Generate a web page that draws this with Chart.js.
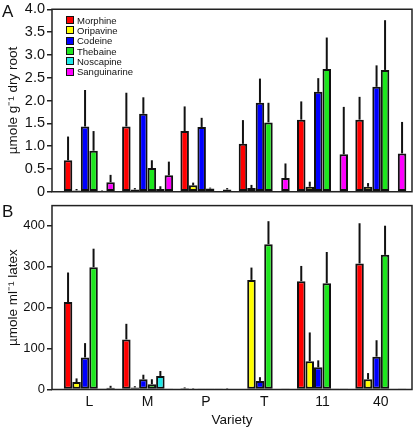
<!DOCTYPE html>
<html>
<head>
<meta charset="utf-8">
<script src="https://cdn.jsdelivr.net/npm/chart.js@4.4.1/dist/chart.umd.min.js"></script>
<style>
    body { margin: 0; background: #fff; font-family: Arial, "Liberation Sans", sans-serif; }
    #wrap { position: relative; width: 415px; height: 428px; }
    #wrap canvas { position: absolute; left: 0; }
    #rootChart { top: 0; }
    #latexChart { top: 201px; }
    .panel-tag { position: absolute; left: 2px; font-size: 17px; line-height: 17px; color: #111; }
    #legend { position: absolute; left: 66px; top: 15px; font-size: 9.5px; color: #111; }
    #legend .row { display: flex; align-items: center; height: 10.3px; }
    #legend .sw { width: 6px; height: 6px; border: 1px solid #111; margin-right: 3px; }
</style>
</head>
<body>
<div id="wrap">
    <canvas id="rootChart" width="415" height="201"></canvas>
    <canvas id="latexChart" width="415" height="227"></canvas>
    <div class="panel-tag" style="top:3px">A</div>
    <div class="panel-tag" style="top:203px">B</div>
    <div id="legend"></div>
</div>
<script>
    const varieties = ["L", "M", "P", "T", "11", "40"];
    const alkaloids = ["Morphine", "Oripavine", "Codeine", "Thebaine", "Noscapine", "Sanguinarine"];
    const fills = ["#ff0000", "#ffff00", "#0000ff", "#1ee61e", "#1ee8e8", "#ff00ff"];

    // A: root content, µmole g-1 dry root (mean, sd)
    const rootMorphine     = [0.69, 1.43, 1.33, 1.05, 1.58, 1.58];
    const rootOripavine    = [0.03, 0.05, 0.14, 0.08, 0.11, 0.11];
    const rootCodeine      = [1.43, 1.71, 1.42, 1.95, 2.19, 2.30];
    const rootThebaine     = [0.90, 0.52, 0.07, 1.52, 2.69, 2.67];
    const rootNoscapine    = [0.02, 0.06, 0.01, 0.01, 0.02, 0.01];
    const rootSanguinarine = [0.21, 0.36, 0.05, 0.30, 0.82, 0.84];

    const rootMorphineSd     = [0.52, 0.74, 0.54, 0.52, 0.40, 0.50];
    const rootOripavineSd    = [0.03, 0.03, 0.06, 0.07, 0.11, 0.08];
    const rootCodeineSd      = [0.80, 0.36, 0.20, 0.53, 0.30, 0.47];
    const rootThebaineSd     = [0.43, 0.17, 0.02, 0.43, 0.69, 1.09];
    const rootNoscapineSd    = [0.01, 0.06, 0, 0, 0, 0];
    const rootSanguinarineSd = [0.16, 0.30, 0.03, 0.32, 1.04, 0.69];

    // B: latex content, µmole ml-1 latex (mean, sd)
    const latexMorphine     = [213, 122, 3, 0, 264, 307];
    const latexOripavine    = [18, 5, 2, 267, 69, 25];
    const latexCodeine      = [78, 25, 1, 21, 54, 80];
    const latexThebaine     = [298, 13, 1, 354, 259, 328];
    const latexNoscapine    = [1, 33, 1, 0, 1, 0];
    const latexSanguinarine = [4, 1, 2, 1, 1, 1];

    const latexMorphineSd     = [72, 38, 2, 0, 37, 98];
    const latexOripavineSd    = [9, 3, 1, 30, 70, 15];
    const latexCodeineSd      = [35, 11, 0, 9, 17, 40];
    const latexThebaineSd     = [45, 12, 0, 56, 76, 71];
    const latexNoscapineSd    = [0, 12, 0, 0, 0, 0];
    const latexSanguinarineSd = [5, 0, 1, 0, 0, 0];

    const fontFamily = "Arial, 'Liberation Sans', sans-serif";
    const ink = "#111";

    function makeDatasets(series, sds) {
        return series.map((vals, i) => ({
            label: alkaloids[i],
            data: vals.map((v, j) => ({ x: j, y: v })),
            errors: sds[i],
            backgroundColor: fills[i],
            borderColor: ink,
            borderWidth: 2,
            borderSkipped: false
        }));
    }

    // upward-only error whiskers
    const errorBars = {
        id: "errorBars",
        afterDatasetsDraw(chart) {
            const ctx = chart.ctx;
            const yScale = chart.scales.y;
            ctx.save();
            ctx.strokeStyle = ink;
            ctx.lineWidth = 2;
            chart.data.datasets.forEach((ds, i) => {
                chart.getDatasetMeta(i).data.forEach((bar, j) => {
                    const sd = ds.errors[j];
                    if (!sd) return;
                    ctx.beginPath();
                    ctx.moveTo(bar.x, bar.y);
                    ctx.lineTo(bar.x, yScale.getPixelForValue(ds.data[j].y + sd));
                    ctx.stroke();
                });
            });
            ctx.restore();
        }
    };

    const frame = {
        id: "frame",
        afterDraw(chart) {
            const a = chart.chartArea;
            const ctx = chart.ctx;
            ctx.save();
            ctx.strokeStyle = "#222";
            ctx.lineWidth = 1.5;
            ctx.strokeRect(a.left, a.top, a.right - a.left, a.bottom - a.top);
            ctx.restore();
        }
    };

    function xAxis(showLabels) {
        return {
            type: "linear",
            min: -0.64,
            max: 5.535,
            offset: false,
            grid: { display: false, offset: false },
            border: { display: false },
            afterFit: s => { s.height = showLabels ? 38.5 : 0; },
            ticks: {
                display: showLabels,
                stepSize: 1,
                includeBounds: false,
                autoSkip: false,
                maxRotation: 0,
                padding: -4,
                color: ink,
                font: { family: fontFamily, size: 14 },
                callback: v => varieties[v] ?? ""
            },
            title: {
                display: showLabels,
                text: "Variety",
                color: ink,
                padding: { top: 0, bottom: 0 },
                font: { family: fontFamily, size: 13.5, lineHeight: 1.2 }
            }
        };
    }

    function yAxis(max, step, tickSize, tickLine, titleText, fmt) {
        return {
            min: 0,
            max: max,
            afterFit: s => { s.width = 52; },
            grid: { drawOnChartArea: false, drawTicks: true, tickLength: 5, color: "#222", lineWidth: 1.5 },
            border: { display: false },
            ticks: {
                stepSize: step,
                includeBounds: false,
                padding: 2,
                color: ink,
                font: { family: fontFamily, size: tickSize, lineHeight: tickLine },
                callback: fmt
            },
            title: {
                display: true,
                text: titleText,
                color: ink,
                padding: { top: 5, bottom: 0 },
                font: { family: fontFamily, size: 13.5, lineHeight: 1.2 }
            }
        };
    }

    function buildChart(id, datasets, yOpts, showX, padding) {
        return new Chart(document.getElementById(id).getContext("2d"), {
            type: "bar",
            data: { datasets: datasets },
            options: {
                responsive: false,
                animation: false,
                layout: { padding: padding },
                datasets: { bar: { categoryPercentage: 0.875, barPercentage: 1 } },
                scales: { x: xAxis(showX), y: yOpts },
                plugins: { legend: { display: false }, tooltip: { enabled: false } }
            },
            plugins: [errorBars, frame]
        });
    }

    buildChart("rootChart",
        makeDatasets(
            [rootMorphine, rootOripavine, rootCodeine, rootThebaine, rootNoscapine, rootSanguinarine],
            [rootMorphineSd, rootOripavineSd, rootCodeineSd, rootThebaineSd, rootNoscapineSd, rootSanguinarineSd]),
        yAxis(4, 0.5, 14.5, 1, "µmole g⁻¹ dry root", v => v === 0 ? "0" : v.toFixed(1)),
        false, { top: 7, right: 3, bottom: 8, left: 0 });

    buildChart("latexChart",
        makeDatasets(
            [latexMorphine, latexOripavine, latexCodeine, latexThebaine, latexNoscapine, latexSanguinarine],
            [latexMorphineSd, latexOripavineSd, latexCodeineSd, latexThebaineSd, latexNoscapineSd, latexSanguinarineSd]),
        yAxis(448, 100, 13, 0.4, "µmole ml⁻¹ latex", v => v),
        true, { top: 3, right: 3, bottom: 0, left: 0 });

    document.getElementById("legend").innerHTML = alkaloids.map((name, i) => `
        <div class="row"><span class="sw" style="background:${fills[i]}"></span><span>${name}</span></div>
    `).join("");
</script>
</body>
</html>
